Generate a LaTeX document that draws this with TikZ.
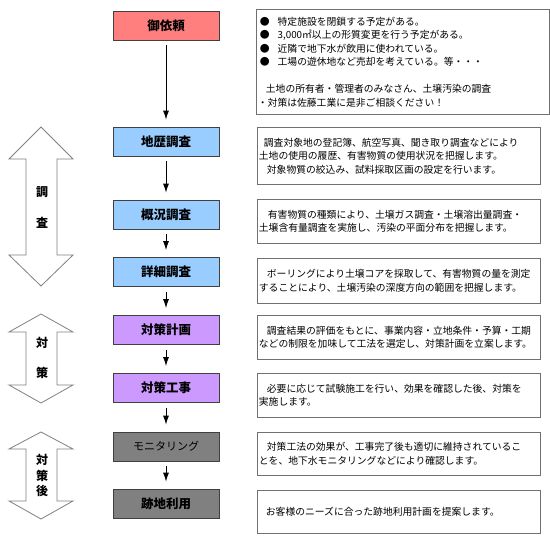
\documentclass[tikz,border=0pt]{standalone}
\usepackage{fontspec}
\setmainfont{Noto Sans CJK JP}
\usetikzlibrary{arrows.meta}
\definecolor{reqred}{HTML}{FF7F7F}
\definecolor{invblue}{HTML}{99CCFF}
\definecolor{plnpurple}{HTML}{CC99FF}
\definecolor{postgray}{HTML}{808080}
\definecolor{boxline}{HTML}{404040}
\definecolor{descline}{HTML}{707070}
\definecolor{phaseline}{HTML}{808080}
\begin{document}
\begin{tikzpicture}[x=1pt,y=-1pt,
 stepbox/.style={draw=boxline, line width=0.8pt, minimum width=106pt, minimum height=29pt, inner sep=0pt, font=\fontsize{12.5}{14}\selectfont\bfseries},
 descbox/.style={draw=descline, line width=0.8pt, fill=white, inner xsep=1.5pt, inner ysep=0pt, align=left, text width=280pt, font=\fontsize{9.8}{13.5}\selectfont, anchor=north west},
 flow/.style={-{Latex[length=9pt,width=6pt]}, line width=0.9pt, shorten <=5pt, shorten >=7pt},
 phase/.style={draw=phaseline, fill=white, line width=0.8pt},
 phasetext/.style={font=\fontsize{12}{14}\selectfont\bfseries}]
\useasboundingbox (0,0) rectangle (550,544);

% left phase double arrows
\draw[phase] (41,127) -- (73,159) -- (57,159) -- (57,255) -- (73,255) -- (41,286) -- (9,255) -- (26,255) -- (26,159) -- (9,159) -- cycle;
\draw[phase] (41,314) -- (73,332) -- (57,332) -- (57,385) -- (73,385) -- (41,403) -- (9,385) -- (26,385) -- (26,332) -- (9,332) -- cycle;
\draw[phase] (41,432) -- (73,449) -- (57,449) -- (57,501) -- (73,501) -- (41,519) -- (9,501) -- (26,501) -- (26,449) -- (9,449) -- cycle;

\node[phasetext] (p1a) at (42,192) {調};
\node[phasetext] (p1b) at (42,223) {査};
\node[phasetext] (p2a) at (42,343) {対};
\node[phasetext] (p2b) at (42,373) {策};
\node[phasetext] (p3a) at (42,460) {対};
\node[phasetext] (p3b) at (42,476) {策};
\node[phasetext] (p3c) at (42,491) {後};

% flow boxes
\node[stepbox, fill=reqred] (s0) at (166,25.5) {御依頼};
\node[stepbox, fill=invblue] (s1) at (166,141.5) {地歴調査};
\node[stepbox, fill=invblue] (s2) at (166,214.5) {概況調査};
\node[stepbox, fill=invblue] (s3) at (166,272) {詳細調査};
\node[stepbox, fill=plnpurple] (s4) at (166,330) {対策計画};
\node[stepbox, fill=plnpurple] (s5) at (166,388) {対策工事};
\node[stepbox, fill=postgray, font=\fontsize{11}{13}\selectfont, text=black] (s6) at (166,446.5) {モニタリング};
\node[stepbox, fill=postgray] (s7) at (166,503.5) {跡地利用};

\draw[flow] (s0) -- (s1);
\draw[flow] (s1) -- (s2);
\draw[flow] (s2) -- (s3);
\draw[flow] (s3) -- (s4);
\draw[flow] (s4) -- (s5);
\draw[flow] (s5) -- (s6);
\draw[flow] (s6) -- (s7);

% description boxes
\node[descbox, text width=290pt, minimum height=105pt] (d0) at (256,9) {%
\hspace*{2pt}●\hspace{8pt}特定施設を閉鎖する予定がある。\\
\hspace*{2pt}●\hspace{8pt}3,000㎡以上の形質変更を行う予定がある。\\
\hspace*{2pt}●\hspace{8pt}近隣で地下水が飲用に使われている。\\
\hspace*{2pt}●\hspace{8pt}工場の遊休地など売却を考えている。等・・・\\[13.5pt]
\hspace*{8pt}土地の所有者・管理者のみなさん、土壌汚染の調査\\
・対策は佐藤工業に是非ご相談ください！};

\node[descbox, minimum height=57pt] (d1) at (257,127) {%
\hspace*{5pt}調査対象地の登記簿、航空写真、聞き取り調査などにより\\
土地の使用の履歴、有害物質の使用状況を把握します。\\
\hspace*{8pt}対象物質の絞込み、試料採取区画の設定を行います。};

\node[descbox, minimum height=44pt] (d2) at (257,199) {%
\hspace*{9pt}有害物質の種類により、土壌ガス調査・土壌溶出量調査・\\
土壌含有量調査を実施し、汚染の平面分布を把握します。};

\node[descbox, minimum height=45pt] (d3) at (257,258) {%
\hspace*{8pt}ボーリングにより土壌コアを採取して、有害物質の量を測定\\
することにより、土壌汚染の深度方向の範囲を把握します。};

\node[descbox, minimum height=44pt] (d4) at (257,315) {%
\hspace*{8pt}調査結果の評価をもとに、事業内容・立地条件・予算・工期\\
などの制限を加味して工法を選定し、対策計画を立案します。};

\node[descbox, minimum height=44pt] (d5) at (257,373) {%
\hspace*{8pt}必要に応じて試験施工を行い、効果を確認した後、対策を\\
実施します。};

\node[descbox, minimum height=43pt] (d6) at (257,432) {%
\hspace*{8pt}対策工法の効果が、工事完了後も適切に維持されているこ\\
とを、地下水モニタリングなどにより確認します。};

\node[descbox, minimum height=43pt] (d7) at (257,490) {%
\hspace*{7pt}お客様のニーズに合った跡地利用計画を提案します。};
\end{tikzpicture}
\end{document}
